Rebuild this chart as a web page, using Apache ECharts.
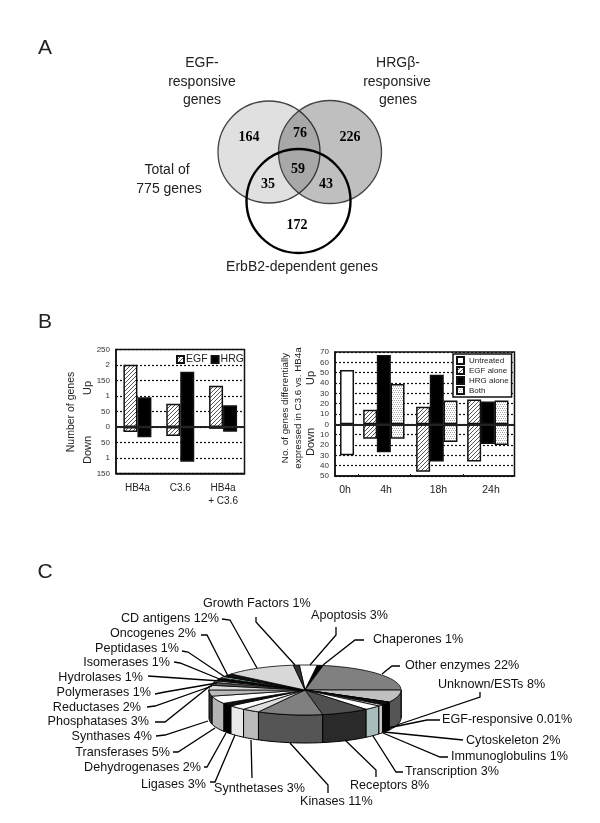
<!DOCTYPE html>
<html>
<head>
<meta charset="utf-8">
<title>Gene charts</title>
<script src="https://cdn.jsdelivr.net/npm/echarts@6/dist/echarts.min.js"></script>
<style>
html, body { margin: 0; background: #fff; }
#main { width: 600px; height: 823px; }
</style>
</head>
<body>
<div id="main"></div>
<script>
// panel B, left
var b1Categories = ['HB4a', 'C3.6', 'HB4a\n+ C3.6'];
var b1EgfUp = [201, 75, 133];
var b1EgfDown = [-16, -29, -6];
var b1HrgUp = [96, 178, 70];
var b1HrgDown = [-33, -112, -15];
var b1TickLabels = ['150', '1', '50', '0', '50', '1', '150', '2', '250'];

// panel B, right
var b2Hours = ['0h', '4h', '18h', '24h'];
var b2UntreatedUp = [52.5];
var b2UntreatedDown = [-30];
var b2EgfUp = [14, 17, 24];
var b2EgfDown = [-14, -46, -36];
var b2HrgUp = [67, 48, 22];
var b2HrgDown = [-27, -36, -19];
var b2BothUp = [39, 23, 23];
var b2BothDown = [-14, -17, -20];

// panel C
var pieCategories = ['Apoptosis', 'Chaperones', 'Other enzymes', 'Unknown/ESTs', 'EGF-responsive', 'Cytoskeleton',
  'Immunoglobulins', 'Transcription', 'Receptors', 'Kinases', 'Synthetases', 'Ligases', 'Dehydrogenases',
  'Transferases', 'Synthases', 'Phosphatases', 'Reductases', 'Polymerases', 'Hydrolases', 'Isomerases',
  'Peptidases', 'Oncogenes', 'CD antigens', 'Growth Factors'];
var pieValues = [3, 1, 22, 8, 0.01, 2, 1, 3, 8, 11, 3, 3, 2, 5, 4, 3, 2, 1, 1, 1, 1, 2, 12, 1];

// panel A
var vennCounts = [164, 76, 226, 59, 35, 43, 172];

// looks and positions from here on
var pieTop = ['#fff', '#000', '#808080', '#c0c0c0', '#888', '#111', '#ddd', '#fff', '#505050', '#808080', '#ddd', '#fff',
  '#111', '#fff', '#bbb', '#ddd', '#555', '#fff', '#222', '#000', '#bfe6e6', '#111', '#d8d8d8', '#333'];
var pieSide = ['#eee', '#000', '#555', '#555', '#555', '#000', '#ccc', '#a8bcbc', '#2a2a2a', '#555', '#bbb', '#e8e8e8',
  '#000', '#b4b4b4', '#333', '#333', '#333', '#333', '#333', '#333', '#333', '#333', '#333', '#333'];
var pieCx = 305, pieCy = 690, pieRx = 96, pieRy = 25, pieDepth = 28, pieStart = -3.4;

// [text x, text y, align, leader points]
var pieLabelLayout = [
  [311, 616, 'left', [[336, 627], [336, 635], [310, 665]]],
  [373, 640, 'left', [[364, 640], [355, 640], [323, 665]]],
  [405, 666, 'left', [[400, 666], [392, 666], [382, 674]]],
  [438, 685, 'left', [[480, 692], [480, 697], [397, 725]]],
  [442, 720, 'left', [[440, 720], [427, 720], [388, 728]]],
  [466, 741, 'left', [[463, 740], [384, 732]]],
  [451, 757, 'left', [[448, 757], [440, 757], [383, 733]]],
  [405, 772, 'left', [[403, 772], [396, 772], [373, 736]]],
  [350, 786, 'left', [[376, 777], [376, 770], [345, 740]]],
  [300, 802, 'left', [[328, 793], [328, 785], [290, 743]]],
  [214, 789, 'left', [[252, 778], [251, 740]]],
  [206, 785, 'right', [[210, 782], [215, 782], [235, 735]]],
  [201, 768, 'right', [[204, 767], [207, 767], [226, 733]]],
  [170, 753, 'right', [[173, 752], [178, 752], [215, 728]]],
  [152, 737, 'right', [[156, 736], [165, 735], [208, 721]]],
  [149, 722, 'right', [[155, 722], [165, 722], [210, 686]]],
  [141, 708, 'right', [[147, 707], [155, 706], [212, 686]]],
  [151, 693, 'right', [[155, 694], [165, 692], [217, 683]]],
  [143, 678, 'right', [[148, 676], [220, 681]]],
  [170, 663, 'right', [[174, 662], [180, 663], [222, 680]]],
  [179, 649, 'right', [[182, 651], [188, 652], [225, 677]]],
  [196, 634, 'right', [[201, 635], [207, 635], [228, 676]]],
  [219, 619, 'right', [[222, 619], [230, 620], [257, 668]]],
  [203, 604, 'left', [[256, 617], [256, 622], [295, 665]]]
];
var vennSpots = [[249, 137], [300, 133], [350, 137], [298, 169], [268, 184], [326, 184], [297, 225]];
var b2GroupPos = [0.88, 3.57, 7.44, 11.17];
var b2LabelPos = [0.73, 3.73, 7.56, 11.4];
var b2TickPos = [1.7, 5.5, 9.34];

function pattern(size, draw) {
  var c = document.createElement('canvas');
  c.width = size; c.height = size;
  var g = c.getContext('2d');
  g.fillStyle = '#fff';
  g.fillRect(0, 0, size, size);
  draw(g);
  return { image: c, repeat: 'repeat' };
}
var hatch = pattern(4, function (g) {
  g.strokeStyle = '#555';
  g.lineWidth = 1;
  g.beginPath();
  g.moveTo(-1, 1); g.lineTo(1, -1);
  g.moveTo(0, 4); g.lineTo(4, 0);
  g.moveTo(3, 5); g.lineTo(5, 3);
  g.stroke();
});
var dots = pattern(4, function (g) {
  g.fillStyle = '#aaa';
  g.fillRect(0, 0, 1, 1);
  g.fillRect(2, 0, 1, 1);
  g.fillRect(1, 2, 1, 1);
  g.fillRect(3, 2, 1, 1);
});

var font = '"Liberation Sans", Arial, sans-serif';
var serif = '"Liberation Serif", "Times New Roman", serif';
var textCol = '#222';

function bar(name, axis, data, color, stack, width) {
  return {
    type: 'bar', name: name, xAxisIndex: axis, yAxisIndex: axis, data: data, stack: stack,
    barWidth: width, barGap: 0, animation: false,
    itemStyle: { color: color, borderColor: '#111', borderWidth: 1.5 }
  };
}
function zeroLine() {
  return { silent: true, symbol: 'none', label: { show: false }, animation: false,
    lineStyle: { color: '#222', width: 2, type: 'solid' }, data: [{ yAxis: 0 }] };
}
// x slot for each hour group, data starts at first hour that has the series
function slots(values, first, shift) {
  return values.map(function (v, i) { return [b2GroupPos[i + first] + shift, v]; });
}

// 3d pie, angles run clockwise from 12 o'clock
var pieAngles = [];
(function () {
  var total = pieValues.reduce(function (a, b) { return a + b; }, 0), a = pieStart;
  pieValues.forEach(function (v) {
    var b = a + v / total * 360;
    pieAngles.push([a, b]);
    a = b;
  });
})();
function rim(deg, drop) {
  var t = deg * Math.PI / 180;
  return [pieCx + pieRx * Math.sin(t), pieCy - pieRy * Math.cos(t) + (drop || 0)];
}
function renderSlice(params, api) {
  var i = api.value(0), a = pieAngles[i][0], b = pieAngles[i][1];
  var kids = [], step = 2, top = [[pieCx, pieCy]], d;
  // wall only on the front half
  var wa = Math.max(a, 90), wb = Math.min(b, 270);
  if (wb > wa) {
    var upper = [], lower = [];
    for (d = wa; d < wb; d += step) { upper.push(rim(d)); lower.unshift(rim(d, pieDepth)); }
    upper.push(rim(wb)); lower.unshift(rim(wb, pieDepth));
    kids.push({ type: 'polygon', shape: { points: upper.concat(lower) },
      style: { fill: pieSide[i], stroke: '#000', lineWidth: 1 } });
  }
  for (d = a; d < b; d += step) top.push(rim(d));
  top.push(rim(b));
  kids.push({ type: 'polygon', shape: { points: top },
    style: { fill: pieTop[i], stroke: '#000', lineWidth: 0.8 } });
  return { type: 'group', children: kids };
}

var graphics = [];
function text(x, y, s, size, o) {
  o = o || {};
  graphics.push({
    type: 'text', x: x, y: y, rotation: o.rot || 0, z: 20,
    style: { text: s, fontSize: size, fontFamily: o.family || font, fontWeight: o.weight || 'normal',
      fill: o.fill || textCol, align: o.align || 'center', verticalAlign: 'middle' }
  });
}
function circle(cx, cy, r, fill, stroke, w) {
  graphics.push({ type: 'circle', shape: { cx: cx, cy: cy, r: r }, z: 1,
    style: { fill: fill, stroke: stroke, lineWidth: w } });
}
text(45, 48, 'A', 21);
text(45, 322, 'B', 21);
text(45, 572, 'C', 21);

circle(269, 152, 51, '#e0e0e0', '#444', 1.3);
circle(330, 152, 51.5, 'rgba(0,0,0,0.25)', '#444', 1.3);
circle(298.5, 201, 52, 'none', '#000', 2.4);
vennCounts.forEach(function (n, i) {
  text(vennSpots[i][0], vennSpots[i][1], String(n), 14, { family: serif, weight: 'bold', fill: '#000' });
});
text(202, 63, 'EGF-', 14);
text(202, 82, 'responsive', 14);
text(202, 100, 'genes', 14);
text(398, 63, 'HRG\u03b2-', 14);
text(397, 82, 'responsive', 14);
text(398, 100, 'genes', 14);
text(167, 170, 'Total of', 14);
text(169, 189, '775 genes', 14);
text(302, 267, 'ErbB2-dependent genes', 14);

text(71, 412, 'Number of genes', 10.5, { rot: Math.PI / 2 });
text(88, 388, 'Up', 11, { rot: Math.PI / 2 });
text(88, 450, 'Down', 11, { rot: Math.PI / 2 });
text(285, 408, 'No. of genes differentially', 9.8, { rot: Math.PI / 2 });
text(298, 408, 'expressed in C3.6 vs. HB4a', 9.8, { rot: Math.PI / 2 });
text(311, 378, 'Up', 11, { rot: Math.PI / 2 });
text(311, 442, 'Down', 11, { rot: Math.PI / 2 });

pieCategories.forEach(function (name, i) {
  var l = pieLabelLayout[i];
  text(l[0], l[1], name + ' ' + pieValues[i] + '%', 12.6, { align: l[2], fill: '#111' });
  graphics.push({ type: 'polyline', z: 15, shape: { points: l[3] },
    style: { fill: 'none', stroke: '#000', lineWidth: 1.3 } });
});

var gridLine = { show: true, lineStyle: { color: '#111', type: [2, 2], width: 1.2 } };
var b1First = bar('EGF', 0, b1EgfUp, hatch, 'egf', 14);
b1First.markLine = zeroLine();
var b2First = bar('Untreated', 1, slots(b2UntreatedUp, 0, 0), '#fff', 'b2', 14);
b2First.markLine = zeroLine();

var option = {
  animation: false,
  backgroundColor: '#fff',
  textStyle: { fontFamily: font },
  graphic: graphics,
  grid: [
    { left: 116, top: 349.5, width: 128.5, height: 124, show: true, borderColor: '#111', borderWidth: 1.5, backgroundColor: '#fff' },
    { left: 335, top: 352, width: 179.5, height: 124, show: true, borderColor: '#111', borderWidth: 1.5, backgroundColor: '#fff' }
  ],
  xAxis: [
    { type: 'category', gridIndex: 0, data: b1Categories, position: 'bottom',
      axisLine: { onZero: false, lineStyle: { color: '#111', width: 1.5 } },
      axisTick: { inside: true, length: 2, lineStyle: { color: '#111' } },
      axisLabel: { color: textCol, fontSize: 10, lineHeight: 13, margin: 8 } },
    { type: 'value', gridIndex: 1, min: 0, max: 13.12, splitLine: { show: false },
      axisLine: { onZero: false, lineStyle: { color: '#111', width: 1.5 } },
      axisTick: { inside: true, length: 2, customValues: b2TickPos, lineStyle: { color: '#111' } },
      axisLabel: { color: textCol, fontSize: 10.5, margin: 9, customValues: b2LabelPos,
        formatter: function (v) { return b2Hours[b2LabelPos.indexOf(v)]; } } }
  ],
  yAxis: [
    { type: 'value', gridIndex: 0, min: -150, max: 250, interval: 50, splitLine: gridLine,
      axisLine: { show: true, onZero: false, lineStyle: { color: '#111', width: 1.5 } }, axisTick: { show: false },
      axisLabel: { color: '#333', fontSize: 8, margin: 6,
        formatter: function (v) { return b1TickLabels[(v + 150) / 50]; } } },
    { type: 'value', gridIndex: 1, min: -50, max: 70, interval: 10, splitLine: gridLine,
      axisLine: { show: true, onZero: false, lineStyle: { color: '#111', width: 1.5 } }, axisTick: { show: false },
      axisLabel: { color: '#333', fontSize: 8, margin: 6,
        formatter: function (v) { return Math.abs(v); } } }
  ],
  legend: [
    { left: 176, top: 354, icon: 'rect', itemWidth: 7, itemHeight: 7, itemGap: 3, selectedMode: false, padding: 0,
      data: ['EGF', 'HRG'], textStyle: { fontSize: 10.5, color: textCol, padding: [0, 0, 0, -3] } },
    { left: 453, top: 354, orient: 'vertical', icon: 'rect', itemWidth: 7, itemHeight: 7, itemGap: 1, selectedMode: false,
      padding: [2, 3, 2, 3], backgroundColor: '#fff', borderColor: '#111', borderWidth: 1.5, z: 30,
      data: ['Untreated', 'EGF alone', 'HRG alone', 'Both'], textStyle: { fontSize: 8, color: textCol } }
  ],
  series: [
    b1First,
    bar('EGF', 0, b1EgfDown, hatch, 'egf', 14),
    bar('HRG', 0, b1HrgUp, '#000', 'hrg', 14),
    bar('HRG', 0, b1HrgDown, '#000', 'hrg', 14),
    b2First,
    bar('Untreated', 1, slots(b2UntreatedDown, 0, 0), '#fff', 'b2', 14),
    bar('EGF alone', 1, slots(b2EgfUp, 1, -1), hatch, 'b2', 14),
    bar('EGF alone', 1, slots(b2EgfDown, 1, -1), hatch, 'b2', 14),
    bar('HRG alone', 1, slots(b2HrgUp, 1, 0), '#000', 'b2', 14),
    bar('HRG alone', 1, slots(b2HrgDown, 1, 0), '#000', 'b2', 14),
    bar('Both', 1, slots(b2BothUp, 1, 1), dots, 'b2', 14),
    bar('Both', 1, slots(b2BothDown, 1, 1), dots, 'b2', 14),
    { type: 'custom', coordinateSystem: 'none', renderItem: renderSlice, animation: false, silent: true,
      data: pieValues.map(function (v, i) { return [i, v]; }) }
  ]
};

var myChart = echarts.init(document.getElementById('main'), null, { renderer: 'canvas' });
myChart.setOption(option);
</script>
</body>
</html>
